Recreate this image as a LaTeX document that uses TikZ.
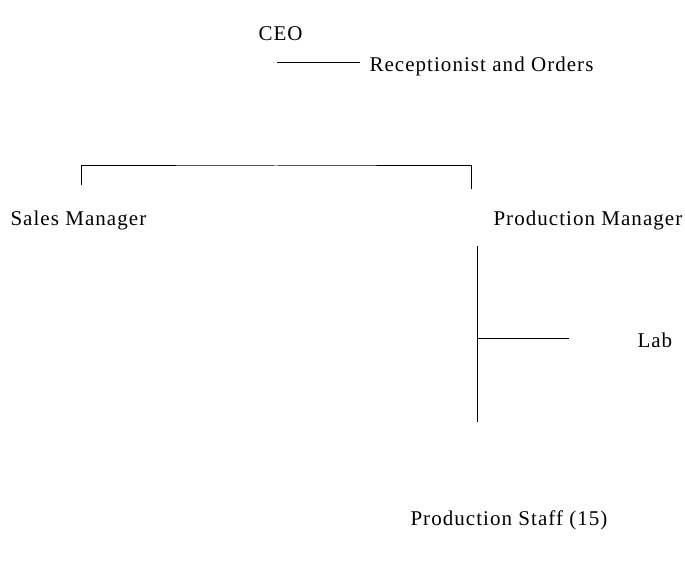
\documentclass[tikz,border=0pt]{standalone}
\usepackage{fontspec}
\setmainfont{Liberation Serif}
\newfontfamily\orgfont[LetterSpace=5]{Liberation Serif}
\usetikzlibrary{positioning}

\begin{document}
\begin{tikzpicture}[x=1pt, y=-1pt, line width=1pt, every node/.style={inner sep=0pt, anchor=west, font=\orgfont\fontsize{21}{25}\selectfont}]
	\useasboundingbox (0,0) rectangle (685,561);
	\node (ceo) at (258,34) {CEO};
	\node (rcp) at (369,66) {Receptionist and Orders};
	\node (sales) at (10,220) {Sales Manager};
	\node (prod) at (493,220) {Production Manager};
	\node (lab) at (637,340) {Lab};
	\node (staff) at (410,520) {Production Staff (15)};
	\coordinate (rcpline) at (277,63);
	\coordinate (brL) at (81,185);
	\coordinate (brtop) at (276,166);
	\coordinate (brR) at (471,189);
	\coordinate (ptop) at (477,246);
	\coordinate (pbot) at (477,422);
	\coordinate (labline) at (569,338);
	\draw (rcpline) -- ([xshift=-9pt]rcp.west |- rcpline);
	\draw (brL) |- (brtop) -| (brR);
	\draw (ptop) -- (pbot);
	\draw (ptop |- labline) -- (labline);
\end{tikzpicture}
\end{document}
